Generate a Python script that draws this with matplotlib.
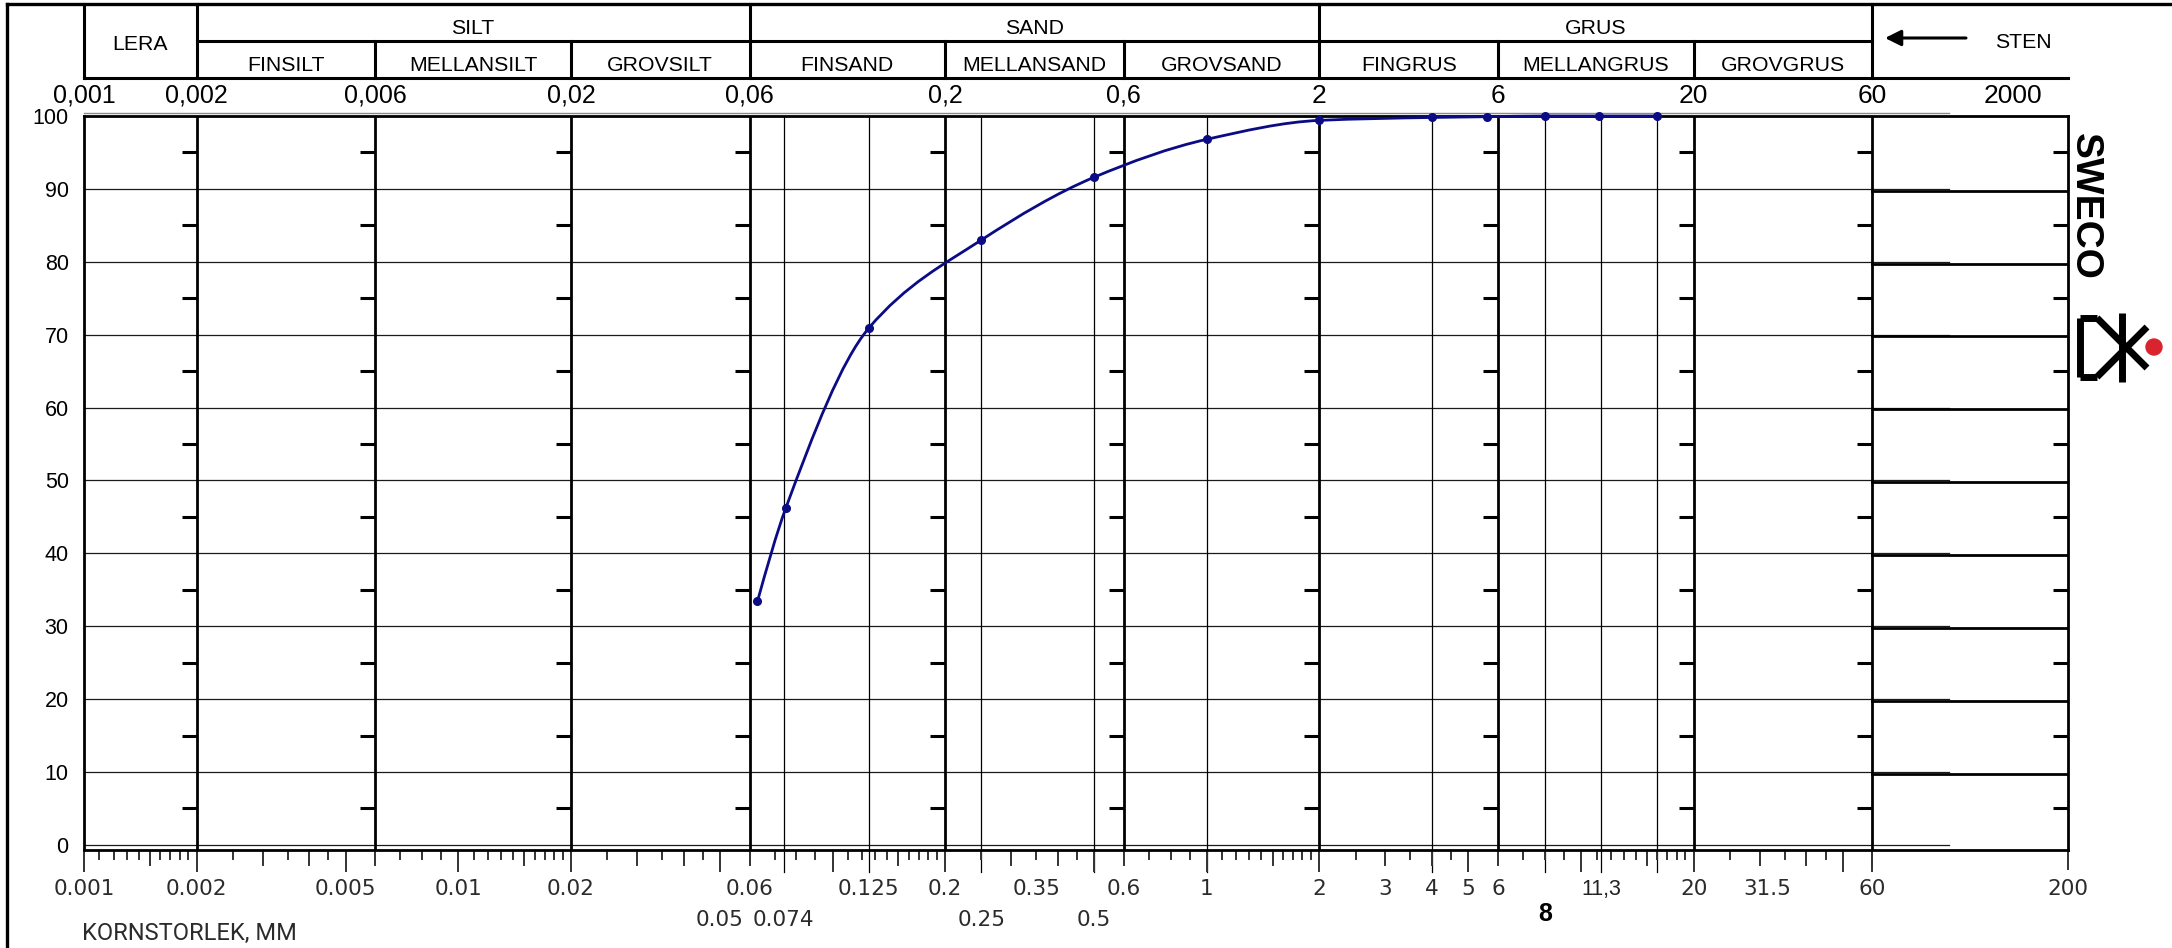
import numpy as np
import matplotlib
matplotlib.use("Agg")
import matplotlib.pyplot as plt
from matplotlib.path import Path
from matplotlib.patches import PathPatch, Circle
from matplotlib.lines import Line2D
from matplotlib.ticker import NullLocator

plt.rcParams["font.family"] = ["Liberation Sans", "DejaVu Sans"]

W, H = 2172, 948

# sieve result: grain size (mm) and passing (%)
sieve_mm = [0.063, 0.075, 0.125, 0.25, 0.5, 1, 2, 4, 5.6, 8, 11.2, 16]
passing = [33.4, 46.2, 70.9, 83.0, 91.6, 96.8, 99.4, 99.8, 99.9, 100.0, 100.0, 100.0]

# fraction boundaries (mm)
bounds = [0.001, 0.002, 0.006, 0.02, 0.06, 0.2, 0.6, 2, 6, 20, 60, 200]
main_classes = [("LERA", 0.001, 0.002), ("SILT", 0.002, 0.06),
                ("SAND", 0.06, 2), ("GRUS", 2, 60)]
sub_classes = [("FINSILT", 0.002, 0.006), ("MELLANSILT", 0.006, 0.02),
               ("GROVSILT", 0.02, 0.06), ("FINSAND", 0.06, 0.2),
               ("MELLANSAND", 0.2, 0.6), ("GROVSAND", 0.6, 2),
               ("FINGRUS", 2, 6), ("MELLANGRUS", 6, 20), ("GROVGRUS", 20, 60)]
top_values = [0.001, 0.002, 0.006, 0.02, 0.06, 0.2, 0.6, 2, 6, 20, 60]
top_labels = ["0,001", "0,002", "0,006", "0,02", "0,06", "0,2", "0,6",
              "2", "6", "20", "60"]
sieve_lines = [0.074, 0.125, 0.25, 0.5, 1, 4, 8, 11.3, 16]
bottom_values = [0.001, 0.002, 0.005, 0.01, 0.02, 0.06, 0.125, 0.2, 0.35,
                 0.6, 1, 2, 3, 4, 5, 6, 20, 31.5, 60, 200]
bottom_labels = ["0.001", "0.002", "0.005", "0.01", "0.02", "0.06", "0.125",
                 "0.2", "0.35", "0.6", "1", "2", "3", "4", "5", "6", "20",
                 "31.5", "60", "200"]
bottom_values2 = [0.05, 0.074, 0.25, 0.5]
bottom_labels2 = ["0.05", "0.074", "0.25", "0.5"]

# ruler tick multipliers per decade
ruler_decades = [0.001, 0.01, 0.1, 1, 10]
ruler_long = [1, 2, 5]
ruler_med = [1.5, 3, 4, 6]
ruler_small = [1.1, 1.2, 1.3, 1.4, 1.6, 1.7, 1.8, 1.9, 2.5, 3.5, 4.5, 7, 8, 9]

fig = plt.figure(figsize=(W / 100, H / 100), dpi=100)
ax = fig.add_axes([84 / W, 1 - 850 / H, (2068 - 84) / W, (850 - 116) / H])
ax.set_xscale("log")
ax.set_xlim(0.001, 200)
ax.set_ylim(-0.7, 100)
ax.xaxis.set_major_locator(NullLocator())
ax.xaxis.set_minor_locator(NullLocator())
ax.set_yticks(range(0, 101, 10))
ax.tick_params(axis="y", length=0, pad=11, labelsize=15.5)
for s in ax.spines.values():
    s.set_linewidth(2.0)
    s.set_color("black")


def ay(py):
    return (850 - py) / 734


xt = ax.get_xaxis_transform()

# horizontal grid
for v in range(0, 100, 10):
    ax.plot([0.001, 96], [v, v], color="#1a1a1a", lw=0.9, zorder=1)
ax.plot([0.001, 96], [100.35, 100.35], color="#8a8a8a", lw=1.0, clip_on=False)
for v in range(10, 100, 10):
    ax.plot([60, 200], [v - 0.25, v - 0.25], color="black", lw=2.0, zorder=2)

# fraction boundaries and sieve lines
ax.vlines(bounds[1:-1], -0.7, 100, color="black", lw=2.0, zorder=2)
for x in sieve_lines:
    ax.plot([x, x], [ay(872), 1.0], transform=xt, color="black", lw=0.9,
            clip_on=False, zorder=2)
for x in bounds[1:]:
    ax.plot([x] * 10, np.arange(5, 100, 10), linestyle="none",
            marker=[(-1, 0), (0, 0)], ms=21.6, mew=2.2, color="black",
            clip_on=False, zorder=3)

# ruler below the axis
ticks = []
for d in ruler_decades:
    for m, ln in [(m, 19) for m in ruler_long] + [(m, 13) for m in ruler_med] + \
            [(m, 7) for m in ruler_small]:
        if d * m <= 60:
            ticks.append((d * m, ln))
ticks += [(60, 19), (200, 17)]
for x, ln in ticks:
    ax.plot([x, x], [ay(852), ay(852 + ln)], transform=xt, color="#333333",
            lw=1.4, clip_on=False)

num_font = dict(family="DejaVu Sans", fontsize=15.5, color="#2b2b2b")
for x, t in zip(bottom_values, bottom_labels):
    ax.text(x, ay(895), t, transform=xt, ha="center", va="baseline", **num_font)
for x, t in zip(bottom_values2, bottom_labels2):
    ax.text(x, ay(926), t, transform=xt, ha="center", va="baseline", **num_font)
ax.text(11.3, ay(895), "11,3", transform=xt, ha="center", va="baseline",
        fontsize=15.5, color="#222222")
ax.text(8, ay(921), "8", transform=xt, ha="center", va="baseline",
        fontsize=18, fontweight="bold")
fig.text(82 / W, 1 - 940 / H, "KORNSTORLEK, MM", family="Roboto",
         fontsize=17, color="#2b2b2b", ha="left", va="baseline")

# header
hdr = dict(color="black", lw=2.2, transform=xt, clip_on=False)
ax.plot([0.001, 200], [ay(78), ay(78)], **hdr)
ax.plot([0.002, 60], [ay(41), ay(41)], **hdr)
for x in [0.001, 0.002, 0.06, 2, 60]:
    ax.plot([x, x], [ay(4), ay(78)], **hdr)
for x in [0.006, 0.02, 0.2, 0.6, 6, 20]:
    ax.plot([x, x], [ay(41), ay(78)], **hdr)
for name, a, b in main_classes:
    base = 50 if name == "LERA" else 34
    ax.text(np.sqrt(a * b), ay(base), name, transform=xt, ha="center",
            va="baseline", fontsize=15.3)
for name, a, b in sub_classes:
    ax.text(np.sqrt(a * b), ay(71), name, transform=xt, ha="center",
            va="baseline", fontsize=15.3)
ax.text((2023 - 84) / 1984, ay(48), "STEN", transform=ax.transAxes,
        ha="center", va="baseline", fontsize=15.3)
ax.annotate("", xy=(1885, H - 38), xytext=(1966, H - 38),
            xycoords="figure pixels", textcoords="figure pixels",
            arrowprops=dict(arrowstyle="-|>", lw=2.2, color="black",
                            mutation_scale=24, shrinkA=0, shrinkB=0))
for x, t in zip(top_values, top_labels):
    size = 18 if t.startswith("0,") else 19
    ax.text(x, ay(103), t, transform=xt, ha="center", va="baseline",
            fontsize=size)
ax.text((2013 - 84) / 1984, ay(103), "2000", transform=ax.transAxes,
        ha="center", va="baseline", fontsize=19)

# outer frame
fig.add_artist(Line2D([7 / W, 7 / W], [0, 1 - 4 / H], transform=fig.transFigure,
                      color="black", lw=2.4))
fig.add_artist(Line2D([7 / W, 1], [1 - 4 / H, 1 - 4 / H],
                      transform=fig.transFigure, color="black", lw=2.4))

# grading curve: monotone cubic drawn as bezier segments in log space
lx = np.log10(sieve_mm)
py = np.array(passing)
h = np.diff(lx)
d = np.diff(py) / h
m = np.zeros(len(lx))
for k in range(1, len(lx) - 1):
    if d[k - 1] * d[k] > 0:
        w1 = 2 * h[k] + h[k - 1]
        w2 = h[k] + 2 * h[k - 1]
        m[k] = (w1 + w2) / (w1 / d[k - 1] + w2 / d[k])
m[0] = ((2 * h[0] + h[1]) * d[0] - h[0] * d[1]) / (h[0] + h[1])
m[-1] = 0.0
verts = [(lx[0], py[0])]
codes = [Path.MOVETO]
for k in range(len(lx) - 1):
    verts += [(lx[k] + h[k] / 3, py[k] + m[k] * h[k] / 3),
              (lx[k + 1] - h[k] / 3, py[k + 1] - m[k + 1] * h[k] / 3),
              (lx[k + 1], py[k + 1])]
    codes += [Path.CURVE4] * 3
verts = np.array(verts)
verts[:, 0] = 10 ** verts[:, 0]
ax.add_patch(PathPatch(Path(verts, codes), facecolor="none",
                       edgecolor="#0b0b85", lw=2.0, zorder=5, clip_on=False))
ax.plot(sieve_mm, passing, linestyle="none", marker="o", ms=5.5,
        color="#0b0b85", zorder=6, clip_on=False)

# logo
fig.text(2085 / W, 1 - 206 / H, "SWECO", rotation=-90, ha="center",
         va="center", fontsize=28, fontweight="bold")
logo_segments = [((2080, 318), (2080, 377)), ((2080, 318), (2097, 318)),
                 ((2080, 377), (2097, 377)), ((2097, 318), (2147, 368)),
                 ((2097, 377), (2147, 327)), ((2122, 313), (2122, 382))]
for (x0, y0), (x1, y1) in logo_segments:
    fig.add_artist(Line2D([x0 / W, x1 / W], [1 - y0 / H, 1 - y1 / H],
                          transform=fig.transFigure, color="black", lw=5,
                          solid_capstyle="butt"))
fig.add_artist(Circle((2154, H - 347), 8, transform=None,
                      color="#d9232e"))

fig.savefig("out.png", dpi=100)
